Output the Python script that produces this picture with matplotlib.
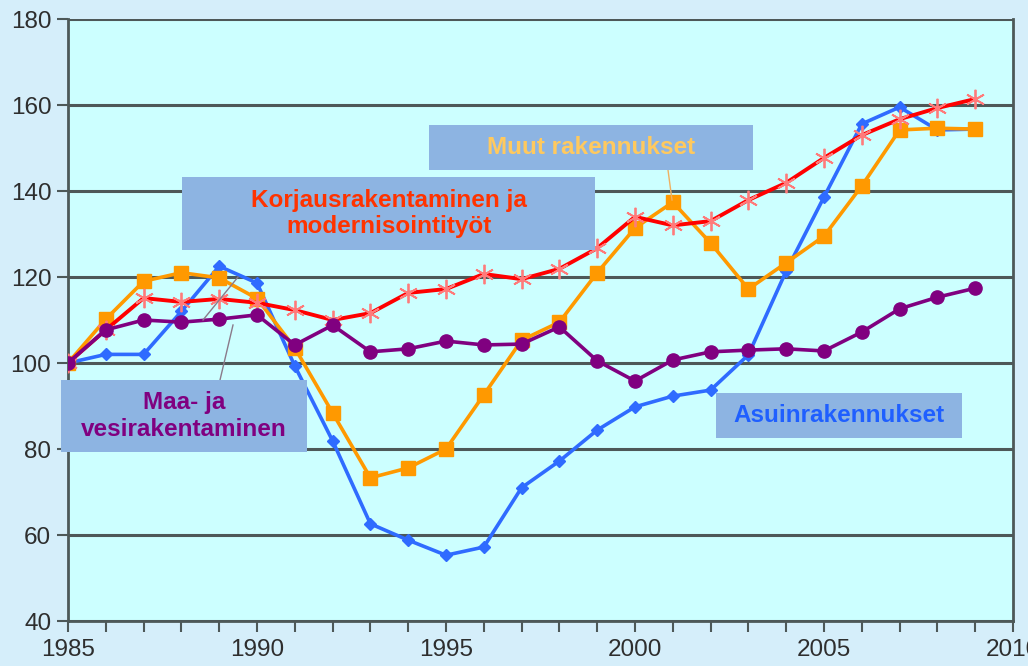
import matplotlib
matplotlib.use("Agg")
import matplotlib.pyplot as plt
from matplotlib.patches import Rectangle
from matplotlib.ticker import MultipleLocator

years = list(range(1985, 2010))

# Asuinrakennukset
asuin = [100, 102, 102, 112, 122.5, 118.6, 99.3, 81.9, 62.6, 58.8, 55.3, 57.2, 71,
         77.2, 84.4, 89.8, 92.3, 93.7, 101.9, 121.4, 138.6, 155.6, 159.5, 154.2, 154.4]
# Muut rakennukset
muut = [100, 110.2, 119, 121, 119.8, 115, 103.5, 88.4, 73.3, 75.6, 80, 92.6, 105.3,
        109.5, 121, 131.4, 137.4, 127.9, 117.2, 123.3, 129.5, 141.2, 154.2, 154.6, 154.4]
# Korjausrakentaminen ja modernisointityöt
korjaus = [100, 107.7, 115.1, 114.2, 114.9, 114, 112.3, 110, 111.6, 116.3, 117.2, 120.7,
           119.5, 121.9, 126.7, 134, 132, 133, 137.9, 141.9, 147.7, 153, 156.7, 159.3, 161.4]
# Maa- ja vesirakentaminen
maa = [100, 107.7, 110, 109.5, 110.2, 111.2, 104.2, 108.8, 102.6, 103.3, 105.1, 104.2,
       104.4, 108.4, 100.5, 95.8, 100.7, 102.6, 103, 103.3, 102.8, 107.2, 112.6, 115.3, 117.4]

W, H = 1028, 666
fig = plt.figure(figsize=(W / 100, H / 100), dpi=100)
fig.patch.set_facecolor("#d5eefa")
ax = fig.add_axes([68 / W, 1 - 621 / H, (1013 - 68) / W, (621 - 19) / H])
ax.set_facecolor("#ccffff")

ax.set_xlim(1985, 2010)
ax.set_ylim(40, 180)
ax.yaxis.set_major_locator(MultipleLocator(20))
ax.xaxis.set_major_locator(MultipleLocator(5))
ax.xaxis.set_minor_locator(MultipleLocator(1))
ax.grid(axis="y", color="#4d5858", linewidth=2.2, zorder=0)
ax.set_axisbelow(True)

for s in ["left", "right", "bottom", "top"]:
    ax.spines[s].set_color("#4d5858")
    ax.spines[s].set_linewidth(2)
ax.spines["top"].set_visible(False)

ax.tick_params(axis="both", which="both", direction="out", color="#4d5858",
               labelcolor="#2e2e2e", labelsize=17.5, width=1.5)
ax.tick_params(axis="y", length=8, pad=4)
ax.tick_params(axis="x", which="major", length=8, pad=5)
ax.tick_params(axis="x", which="minor", length=8)
for lab in ax.get_xticklabels() + ax.get_yticklabels():
    lab.set_fontfamily("Liberation Sans")

ax.plot(years, asuin, color="#2f6bff", lw=2.6, marker="D", ms=6.5, zorder=3)
ax.plot(years, muut, color="#ff9900", lw=2.6, marker="s", ms=10, zorder=4)
ax.plot(years, korjaus, color="#ff0000", lw=2.8, marker=(6, 2, 0), ms=14,
        mec="#ff7a7a", mew=1.3, zorder=5)
ax.plot(years, maa, color="#800080", lw=2.6, marker="o", ms=9.5, zorder=6)


def px(x, y):
    return x / W, 1 - y / H


box_color = "#8db4e2"
labels = [
    # (x0, y0, x1, y1, text, color)
    (429, 125, 753, 170, "Muut rakennukset", "#ffc95e"),
    (182, 177, 595, 250, "Korjausrakentaminen ja\nmodernisointityöt", "#ff3300"),
    (61, 380, 307, 452, "Maa- ja\nvesirakentaminen", "#800080"),
    (716, 393, 962, 438, "Asuinrakennukset", "#1f5fff"),
]

# leader lines
fig.add_artist(plt.Line2D([668 / W, 672 / W], [1 - 170 / H, 1 - 200 / H],
                          color="#f0b060", lw=1, transform=fig.transFigure, zorder=7))
fig.add_artist(plt.Line2D([238 / W, 203 / W], [1 - 277 / H, 1 - 320 / H],
                          color="#8a7a8a", lw=1, transform=fig.transFigure, zorder=7))
fig.add_artist(plt.Line2D([233 / W, 220 / W], [1 - 325 / H, 1 - 380 / H],
                          color="#8a7a8a", lw=1, transform=fig.transFigure, zorder=7))

for x0, y0, x1, y1, txt, col in labels:
    fx0, fy1 = px(x0, y1)
    fx1, fy0 = px(x1, y0)
    fig.add_artist(Rectangle((fx0, fy1), fx1 - fx0, fy0 - fy1, transform=fig.transFigure,
                             facecolor=box_color, edgecolor="none", zorder=8))
    cx, cy = px((x0 + x1) / 2, (y0 + y1) / 2)
    fig.text(cx, cy, txt, ha="center", va="center", color=col, fontsize=17.5,
             fontweight="bold", family="Liberation Sans", linespacing=1.2, zorder=9)

fig.savefig("out.png", dpi=100, facecolor=fig.get_facecolor())
